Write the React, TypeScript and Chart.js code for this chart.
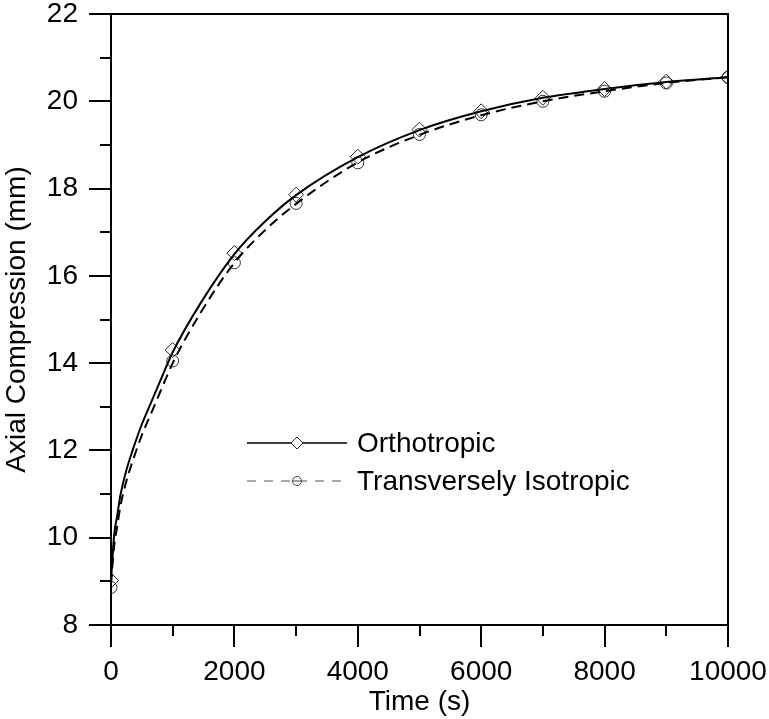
import React, { useEffect, useRef } from 'react';
import { Chart, registerables } from 'chart.js';

Chart.register(...registerables);

// ---- Data ----
const markerTimes = [0, 1000, 2000, 3000, 4000, 5000, 6000, 7000, 8000, 9000, 10000];
const orthoMarkers = [9.02, 14.3, 16.52, 17.86, 18.73, 19.35, 19.77, 20.08, 20.28, 20.45, 20.55];
const transMarkers = [8.86, 14.05, 16.3, 17.66, 18.59, 19.24, 19.69, 20.0, 20.23, 20.42, 20.55];

const curveTimes = [0, 50, 100, 150, 250, 350, 500, 650, 800, 1000, 1450, 2000, 2500, 3000, 4000, 5000, 6000, 7000, 8000, 9000, 10000];
const orthoCurve = [9.0, 10.05, 10.5, 10.95, 11.55, 12.0, 12.6, 13.1, 13.6, 14.25, 15.37, 16.5, 17.25, 17.85, 18.72, 19.34, 19.77, 20.08, 20.28, 20.44, 20.55];
const transCurve = [8.95, 9.8, 10.25, 10.7, 11.3, 11.75, 12.35, 12.85, 13.35, 14.0, 15.15, 16.3, 17.05, 17.65, 18.6, 19.23, 19.68, 20.0, 20.23, 20.42, 20.55];

const seriesNames = ['Orthotropic', 'Transversely Isotropic'];
const xTitle = 'Time (s)';
const yTitle = 'Axial Compression (mm)';
const xRange = [0, 10000];
const yRange = [8, 22];
const xStep = 2000;
const yStep = 2;

const FONT = '"Liberation Sans", Arial, Helvetica, sans-serif';

const pts = (xs: number[], ys: number[]) => xs.map((x, i) => ({ x, y: ys[i] }));

const frameTicksPlugin = {
  id: 'frameTicks',
  afterDraw(chart: any) {
    const { ctx, chartArea: a, scales } = chart;
    const xs = scales.x;
    const ys = scales.y;
    ctx.save();
    ctx.strokeStyle = '#000';
    ctx.lineWidth = 2;
    ctx.beginPath();
    ctx.moveTo(a.left - 1, a.top);
    ctx.lineTo(a.right, a.top);
    ctx.lineTo(a.right, a.bottom + 1);
    ctx.stroke();

    const MAJOR = 22;
    const MINOR = 11;
    ctx.beginPath();
    const xv = xs.ticks.map((t: any) => t.value);
    xv.forEach((v: number, i: number) => {
      const p = Math.round(xs.getPixelForValue(v));
      ctx.moveTo(p, a.bottom);
      ctx.lineTo(p, a.bottom + MAJOR);
      if (i < xv.length - 1) {
        const m = Math.round(xs.getPixelForValue((v + xv[i + 1]) / 2));
        ctx.moveTo(m, a.bottom);
        ctx.lineTo(m, a.bottom + MINOR);
      }
    });
    const yv = ys.ticks.map((t: any) => t.value);
    yv.forEach((v: number, i: number) => {
      const p = Math.round(ys.getPixelForValue(v));
      ctx.moveTo(a.left, p);
      ctx.lineTo(a.left - MAJOR, p);
      if (i < yv.length - 1) {
        const m = Math.round(ys.getPixelForValue((v + yv[i + 1]) / 2));
        ctx.moveTo(a.left, m);
        ctx.lineTo(a.left - MINOR, m);
      }
    });
    ctx.stroke();
    ctx.restore();
  },
};

const legendPlugin = {
  id: 'customLegend',
  afterDraw(chart: any, _args: any, opts: any) {
    const { ctx } = chart;
    const rows = [
      { label: chart.data.datasets[0].label, dash: [] as number[], color: '#000', width: 1.6, marker: 'diamond', mcolor: '#222' },
      { label: chart.data.datasets[1].label, dash: [9, 8], color: '#555', width: 1.2, marker: 'circle', mcolor: '#444' },
    ];
    ctx.save();
    rows.forEach((r, i) => {
      const y = opts.y + i * opts.gap;
      const x0 = opts.x;
      const x1 = opts.x + opts.len;
      ctx.strokeStyle = r.color;
      ctx.lineWidth = r.width;
      ctx.setLineDash(r.dash);
      ctx.beginPath();
      ctx.moveTo(x0, y);
      ctx.lineTo(x1, y);
      ctx.stroke();
      ctx.setLineDash([]);
      const cx = (x0 + x1) / 2;
      ctx.strokeStyle = r.mcolor;
      ctx.lineWidth = 1;
      ctx.fillStyle = '#fff';
      ctx.beginPath();
      if (r.marker === 'diamond') {
        const s = 6;
        ctx.moveTo(cx, y - s);
        ctx.lineTo(cx + s, y);
        ctx.lineTo(cx, y + s);
        ctx.lineTo(cx - s, y);
        ctx.closePath();
      } else {
        ctx.arc(cx, y, 4.5, 0, Math.PI * 2);
        ctx.moveTo(cx - 4.5, y);
        ctx.lineTo(cx + 4.5, y);
      }
      ctx.fill();
      ctx.stroke();
      ctx.fillStyle = '#000';
      ctx.font = `28px ${FONT}`;
      ctx.textAlign = 'left';
      ctx.textBaseline = 'middle';
      ctx.fillText(r.label, x1 + opts.textGap, y + 1);
    });
    ctx.restore();
  },
};

const zeroPad = (s: any) => {
  s.paddingLeft = 0;
  s.paddingRight = 0;
  s.paddingTop = 0;
  s.paddingBottom = 0;
};

export default function App() {
  const ref = useRef<HTMLCanvasElement | null>(null);

  useEffect(() => {
    if (!ref.current) return;
    const tickFont = { family: FONT, size: 28, lineHeight: 1 };
    const chart = new Chart(ref.current, {
      type: 'line',
      data: {
        datasets: [
          {
            label: seriesNames[0],
            data: pts(curveTimes, orthoCurve),
            borderColor: '#000',
            borderWidth: 2,
            pointRadius: 0,
            cubicInterpolationMode: 'monotone',
            fill: false,
          },
          {
            label: seriesNames[1],
            data: pts(curveTimes, transCurve),
            borderColor: '#000',
            borderWidth: 2,
            borderDash: [10, 6],
            pointRadius: 0,
            cubicInterpolationMode: 'monotone',
            fill: false,
          },
          {
            label: seriesNames[0] + ' markers',
            data: pts(markerTimes, orthoMarkers),
            showLine: false,
            pointStyle: 'rectRot',
            pointRadius: 7.5,
            pointBorderWidth: 1,
            pointBorderColor: '#222',
            pointBackgroundColor: 'rgba(0,0,0,0)',
            borderColor: '#222',
          },
          {
            label: seriesNames[1] + ' markers',
            data: pts(markerTimes, transMarkers),
            showLine: false,
            pointStyle: 'circle',
            pointRadius: 6,
            pointBorderWidth: 1,
            pointBorderColor: '#333',
            pointBackgroundColor: 'rgba(0,0,0,0)',
            borderColor: '#333',
          },
        ],
      },
      options: {
        animation: false,
        responsive: false,
        devicePixelRatio: 1,
        events: [],
        layout: { padding: { top: 14, right: 41, left: 0, bottom: 0 } },
        plugins: {
          legend: { display: false },
          tooltip: { enabled: false },
          customLegend: { x: 247, y: 443, gap: 38, len: 100, textGap: 10 },
        } as any,
        scales: {
          x: {
            type: 'linear',
            min: xRange[0],
            max: xRange[1],
            ticks: {
              stepSize: xStep, color: '#000', font: tickFont, padding: 33, maxRotation: 0, autoSkip: false,
              callback: (v: any) => String(v),
            },
            grid: { display: true, drawOnChartArea: false, drawTicks: false },
            border: { display: true, color: '#000', width: 2 },
            title: { display: true, text: xTitle, color: '#000', font: { family: FONT, size: 28, lineHeight: 1.2 }, padding: 0 },
            afterFit: (s: any) => { s.height = 94; zeroPad(s); },
          },
          y: {
            type: 'linear',
            min: yRange[0],
            max: yRange[1],
            ticks: { stepSize: yStep, color: '#000', font: tickFont, padding: 33, callback: (v: any) => String(v) },
            grid: { display: true, drawOnChartArea: false, drawTicks: false },
            border: { display: true, color: '#000', width: 2 },
            title: { display: true, text: yTitle, color: '#000', font: { family: FONT, size: 28, lineHeight: 1.2 }, padding: 0 },
            afterFit: (s: any) => { s.width = 111; zeroPad(s); },
          },
        },
      } as any,
      plugins: [frameTicksPlugin, legendPlugin],
    });
    return () => chart.destroy();
  }, []);

  return (
    <canvas
      ref={ref}
      width={769}
      height={719}
      style={{ position: 'absolute', left: 0, top: 0, width: 769, height: 719, background: '#fff' }}
    />
  );
}
